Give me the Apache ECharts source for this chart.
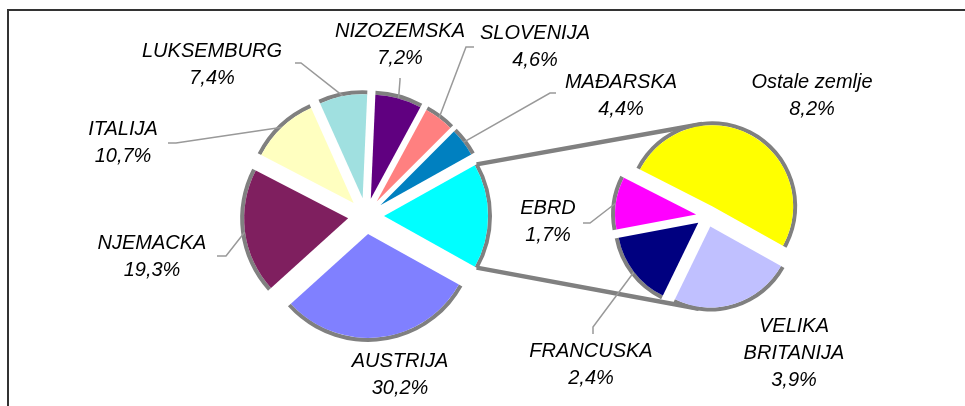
<!DOCTYPE html>
<html>
<head>
<meta charset="utf-8">
<script src="https://cdn.jsdelivr.net/npm/echarts@6/dist/echarts.min.js"></script>
<style>
  html, body { margin: 0; padding: 0; background: #ffffff; }
  #chart { width: 965px; height: 406px; }
</style>
</head>
<body>
<div id="chart"></div>
<script>
// Primary pie: individual countries (share, %)
const countries = ['AUSTRIJA', 'NJEMACKA', 'ITALIJA', 'LUKSEMBURG', 'NIZOZEMSKA', 'SLOVENIJA', 'MAĐARSKA'];
const countryShares = [30.2, 19.3, 10.7, 7.4, 7.2, 4.6, 4.4];

// Secondary pie: breakdown of the remaining group (share, %)
const otherNames = ['Ostale zemlje', 'VELIKA BRITANIJA', 'FRANCUSKA', 'EBRD'];
const otherShares = [8.2, 3.9, 2.4, 1.7];

// Colours
const countryColors = ['#8080ff', '#7f1f5f', '#ffffc0', '#a0e0e0', '#600080', '#ff8080', '#0080c0'];
const groupColor = '#00ffff';
const otherColors = ['#ffff00', '#c0c0ff', '#000080', '#ff00ff'];
const rimColor = '#808080';

// Geometry of both pies (pixels)
const MAIN = { cx: 366, cy: 216, r: 104, ring: 4, explode: 18 };
const SEC  = { cx: 707, cy: 216, r: 81,  ring: 4, explode: 11 };

// Label anchors: x = centre of text, y = baseline of first line; leader = elbow + end
const labelPlacement = {
  'AUSTRIJA':         { x: 400, y: 368 },
  'NJEMACKA':         { x: 152, y: 250, leader: [[226, 256], [217, 256]] },
  'ITALIJA':          { x: 123, y: 136, leader: [[176, 143], [168, 143]] },
  'LUKSEMBURG':       { x: 212, y: 58,  leader: [[301, 63], [295, 63]] },
  'NIZOZEMSKA':       { x: 400, y: 38,  leader: [[400, 80], [400, 78]] },
  'SLOVENIJA':        { x: 535, y: 40,  leader: [[466, 47], [474, 47]] },
  'MAĐARSKA':         { x: 621, y: 89,  leader: [[550, 93], [556, 93]] },
  'Ostale zemlje':    { x: 812, y: 89 },
  'VELIKA BRITANIJA': { x: 794, y: 333 },
  'FRANCUSKA':        { x: 591, y: 358, leader: [[593, 327], [593, 334]] },
  'EBRD':             { x: 548, y: 215, leader: [[590, 223], [583, 223]] }
};

const FONT = 20, LINE_H = 27;

const sum = a => a.reduce((s, v) => s + v, 0);
const groupTotal = sum(otherShares);

// Primary pie runs clockwise starting with the group slice, centred on the right
const mainNames  = [''].concat(countries);
const mainValues = [groupTotal].concat(countryShares);
const mainColors = [groupColor].concat(countryColors);
const mainStart  = groupTotal / sum(mainValues) * 180;
const secStart   = 153;

function midAngles(values, start) {
  const total = sum(values);
  let acc = 0;
  return values.map(v => { const m = start - (acc + v / 2) / total * 360; acc += v; return m; });
}
function offsetCenter(geo, deg) {
  const a = deg * Math.PI / 180;
  return [geo.cx + geo.explode * Math.cos(a), geo.cy - geo.explode * Math.sin(a)];
}
function fmtShare(v) { return v.toFixed(1).replace('.', ',') + '%'; }
function wrapName(n) {
  return n.split(' ').every(w => w === w.toUpperCase()) ? n.replace(/ /g, '\n') : n;
}

// One exploded slice = a filled pie (only slice k visible) plus a grey rim ring behind it
function sliceSeries(names, values, colors, start, geo, k) {
  const center = offsetCenter(geo, midAngles(values, start)[k]);
  const hidden = { color: 'rgba(0,0,0,0)', borderWidth: 0 };
  const common = {
    type: 'pie', center: center, startAngle: start, clockwise: true,
    avoidLabelOverlap: false, silent: true, animation: false,
    emphasis: { disabled: true }, minAngle: 0
  };
  const place = labelPlacement[names[k]];
  const fill = Object.assign({}, common, {
    radius: [0, geo.r], z: 3,
    label: {
      position: 'outside', color: '#000', fontStyle: 'italic',
      fontFamily: 'Liberation Sans, Arial, sans-serif', fontSize: FONT, lineHeight: LINE_H,
      formatter: p => wrapName(p.name) + '\n' + fmtShare(p.value)
    },
    labelLine: { lineStyle: { color: '#999999', width: 1.5 } },
    labelLayout: params => {
      if (!place) return {};
      const out = { x: place.x, y: place.y - (LINE_H / 2 + FONT * 0.35), align: 'center', verticalAlign: 'top' };
      if (place.leader && params.labelLinePoints) {
        out.labelLinePoints = [params.labelLinePoints[0], place.leader[0], place.leader[1]];
      }
      return out;
    },
    data: values.map((v, i) => ({
      name: names[i], value: v,
      itemStyle: i === k ? { color: colors[i] } : hidden,
      label: { show: i === k && !!place },
      labelLine: { show: i === k && !!(place && place.leader) }
    }))
  });
  const rim = Object.assign({}, common, {
    radius: [geo.r, geo.r + geo.ring], z: 2,
    label: { show: false }, labelLine: { show: false },
    data: values.map((v, i) => ({
      name: names[i], value: v,
      itemStyle: i === k ? { color: rimColor } : hidden
    }))
  });
  return [rim, fill];
}

// Point on the outer rim of whichever exploded slice covers angle deg
function rimPoint(values, start, geo, deg) {
  const total = sum(values);
  let acc = 0, k = 0;
  for (let i = 0; i < values.length; i++) {
    const a0 = start - acc / total * 360, a1 = start - (acc + values[i]) / total * 360;
    let d = deg;
    while (d > a0) d -= 360;
    while (d < a1) d += 360;
    if (d <= a0 && d >= a1) { k = i; break; }
    acc += values[i];
  }
  const c = offsetCenter(geo, midAngles(values, start)[k]);
  const rr = geo.r + geo.ring / 2;
  const a = deg * Math.PI / 180;
  return [c[0] + rr * Math.cos(a), c[1] - rr * Math.sin(a)];
}

const series = [];
mainValues.forEach((_, k) => series.push(...sliceSeries(mainNames, mainValues, mainColors, mainStart, MAIN, k)));
otherShares.forEach((_, k) => series.push(...sliceSeries(otherNames, otherShares, otherColors, secStart, SEC, k)));

// Connector lines between the group slice and the secondary pie
const groupTop = rimPoint(mainValues, mainStart, MAIN, mainStart - 0.01);
const groupBot = rimPoint(mainValues, mainStart, MAIN, -mainStart + 0.01);
const secTop = rimPoint(otherShares, secStart, SEC, 97);
const secBot = rimPoint(otherShares, secStart, SEC, -98);

const chart = echarts.init(document.getElementById('chart'));
chart.setOption({
  animation: false,
  backgroundColor: '#ffffff',
  graphic: [
    { type: 'polyline', z: 0, silent: true,
      shape: { points: [[8, 406], [8, 10], [965, 10]] },
      style: { stroke: '#333333', lineWidth: 2, fill: null } },
    { type: 'line', z: 0, silent: true,
      shape: { x1: groupTop[0], y1: groupTop[1], x2: secTop[0], y2: secTop[1] },
      style: { stroke: rimColor, lineWidth: 4.5 } },
    { type: 'line', z: 0, silent: true,
      shape: { x1: groupBot[0], y1: groupBot[1], x2: secBot[0], y2: secBot[1] },
      style: { stroke: rimColor, lineWidth: 4.5 } }
  ],
  series: series
});
</script>
</body>
</html>
